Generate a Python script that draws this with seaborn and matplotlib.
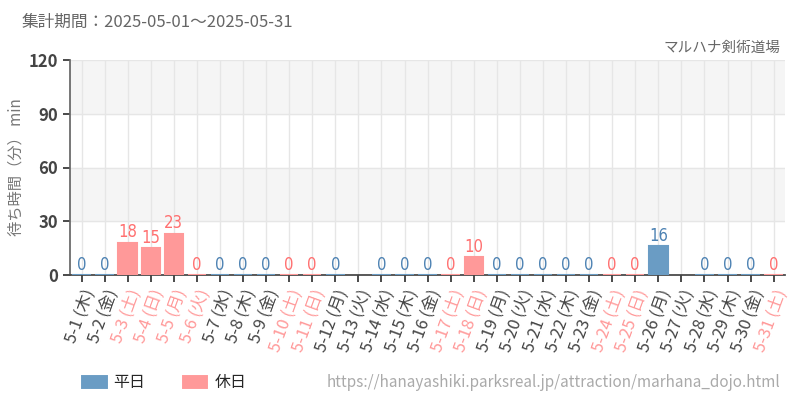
import pandas as pd
import numpy as np
import matplotlib
matplotlib.use("Agg")
import matplotlib.pyplot as plt
import seaborn as sns

# データ
days = [f"5-{d}" for d in range(1, 32)]
weekdays = ["木", "金", "土", "日", "月", "火", "水"] * 5
weekdays = weekdays[:31]
holidays = [3, 4, 5, 6, 10, 11, 17, 18, 24, 25, 31]
wait_min = [0, 0, 18, 15, 23, 0, 0, 0, 0, 0, 0, 0, np.nan, 0, 0, 0, 0, 10,
            0, 0, 0, 0, 0, 0, 0, 16, np.nan, 0, 0, 0, 0]

labels = [f"{d} ({w})" for d, w in zip(days, weekdays)]
kind = ["休日" if i + 1 in holidays else "平日" for i in range(31)]

df = pd.DataFrame({"label": labels, "wait": wait_min, "kind": kind})
df_plot = df.dropna()

BLUE = "#6a9cc4"
PINK = "#ff9999"
palette = {"平日": BLUE, "休日": PINK}

sns.set_theme(style="white")
plt.rcParams["font.family"] = ["Noto Sans CJK JP", "DejaVu Sans"]

fig = plt.figure(figsize=(8, 4), dpi=100)
ax = fig.add_axes([0.0875, 0.3125, 0.894, 0.5375])

# 背景の帯
ax.axhspan(30, 60, color="#f5f5f5", zorder=0)
ax.axhspan(90, 120, color="#f5f5f5", zorder=0)

sns.barplot(data=df_plot, x="label", y="wait", hue="kind", order=labels,
            hue_order=["平日", "休日"], palette=palette, dodge=False,
            width=0.8, saturation=1, linewidth=1.5, ax=ax, zorder=3)
for patch in ax.patches:
    patch.set_edgecolor(patch.get_facecolor())

label_colors = {"平日": "#4d82b3", "休日": "#ff7070"}
for cont, name in zip(ax.containers, ["平日", "休日"]):
    ax.bar_label(cont, fmt="%d", padding=1, color=label_colors[name],
                 fontsize=12, family="DejaVu Sans", fontstretch="condensed")

ax.set_xlim(-0.5, 30.5)
ax.set_ylim(0, 120)
ax.set_yticks([0, 30, 60, 90, 120])
ax.set_xticks(range(31))
ax.grid(True, color="#e6e6e6", linewidth=1, zorder=1)
ax.set_axisbelow(True)

for s in ["top", "right"]:
    ax.spines[s].set_visible(False)
ax.spines["left"].set_color("#666666")
ax.spines["bottom"].set_color("#444444")

ax.tick_params(axis="y", length=5, color="#333333", labelsize=12,
               labelcolor="#444444", left=True)
ax.tick_params(axis="x", length=5, color="#333333", bottom=True)
for t in ax.get_yticklabels():
    t.set_fontweight("semibold")

ax.set_xticklabels(labels, rotation=70, ha="right", rotation_mode="anchor",
                   fontsize=12)
for t, k in zip(ax.get_xticklabels(), kind):
    t.set_color(PINK if k == "休日" else "#444444")

ax.set_xlabel("")
ax.set_ylabel("待ち時間（分） min", color="#777777", fontsize=11, labelpad=3)

fig.text(0.027, 0.945, "集計期間：2025-05-01～2025-05-31", color="#666666",
         fontsize=12, va="center")
fig.text(0.976, 0.88, "マルハナ剣術道場", color="#666666", fontsize=10.5,
         ha="right", va="center")
fig.text(0.976, 0.043, "https://hanayashiki.parksreal.jp/attraction/marhana_dojo.html",
         color="#aaaaaa", fontsize=11, ha="right", va="center")

sns.move_legend(ax, "center left", bbox_to_anchor=(0.1, 0.043),
                bbox_transform=fig.transFigure, ncol=2, frameon=False,
                title=None, fontsize=11.5, handlelength=1.8, handleheight=1.1,
                columnspacing=2.2, handletextpad=0.3, borderpad=0, borderaxespad=0)

fig.savefig("out.png", dpi=100)
